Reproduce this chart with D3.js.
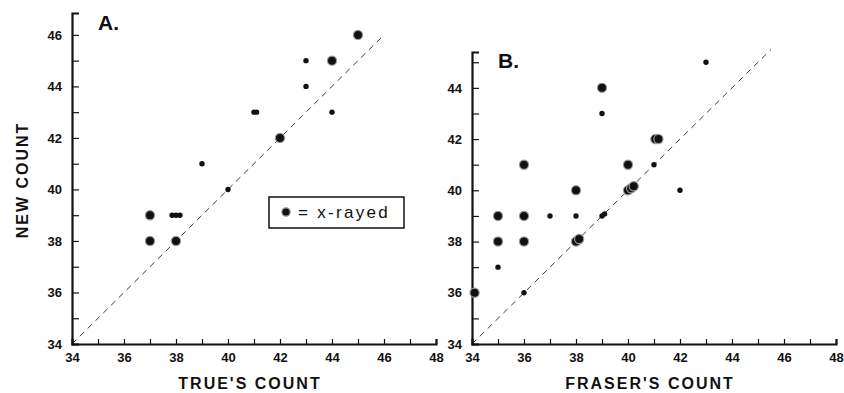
<!DOCTYPE html>
<html>
<head>
<meta charset="utf-8">
<script src="https://cdn.jsdelivr.net/npm/d3@7"></script>
<style>
  body { margin: 0; background: #fff; }
  svg { display: block; font-family: "Liberation Sans", Arial, sans-serif; }
  .axis text { font-size: 13px; font-weight: bold; fill: #111; }
  .axis path, .axis line { stroke: #111; }
  .title { font-weight: bold; font-size: 16px; letter-spacing: 2px; fill: #111; }
</style>
</head>
<body>
<script>
// panel A: true's count vs new count
const trueCount = [45, 43, 44, 43, 44, 41, 41.1, 42, 39, 40, 37, 37.85, 38, 38.15, 37, 38];
const newCountA = [46, 45, 45, 44, 43, 43, 43, 42, 41, 40, 39, 39, 39, 39, 38, 38];
const xrayedA   = [1, 0, 1, 0, 0, 0, 0, 1, 0, 0, 1, 0, 0, 0, 1, 1];

// panel B: fraser's count vs new count
const fraserCount = [43, 39, 39, 41.05, 41.17, 36, 40, 41, 38, 40, 40.12, 40.22, 42, 35, 36, 37, 38, 39, 39.1, 35, 36, 38, 38.12, 35, 34.1, 36];
const newCountB   = [45, 44, 43, 42, 42, 41, 41, 41, 40, 40, 40.08, 40.16, 40, 39, 39, 39, 39, 39, 39.08, 38, 38, 38, 38.1, 37, 36, 36];
const xrayedB     = [0, 1, 0, 1, 1, 1, 1, 0, 1, 1, 1, 1, 0, 1, 1, 0, 0, 0, 0, 1, 1, 1, 1, 0, 1, 0];

const xTicks = d3.range(34, 49);
const yTicksA = d3.range(34, 47);
const yTicksB = d3.range(34, 46);

const w = 844, h = 393;
const svg = d3.select("body").append("svg")
  .attr("width", w)
  .attr("height", h);

function evenOnly(d) { return d % 2 === 0 ? d : ""; }

function drawPanel(opts) {
  const x = d3.scaleLinear().domain([34, 48]).range(opts.xRange);
  const y = d3.scaleLinear().domain(opts.yDomain).range(opts.yRange);
  const g = svg.append("g");

  // diagonal 1:1 line
  g.append("line")
    .attr("x1", x(34)).attr("y1", y(34))
    .attr("x2", x(opts.diagEnd)).attr("y2", y(opts.diagEnd))
    .attr("stroke", "#222")
    .attr("stroke-width", 0.9)
    .attr("stroke-dasharray", "6,5");

  const xAxis = d3.axisBottom(x)
    .tickValues(xTicks)
    .tickFormat(evenOnly)
    .tickSizeInner(-5)
    .tickSizeOuter(-5)
    .tickPadding(9);
  const gx = g.append("g")
    .attr("class", "axis")
    .attr("transform", "translate(0," + y(34) + ")")
    .call(xAxis);
  gx.select(".domain").attr("stroke-width", 2.2);
  gx.selectAll(".tick line").attr("stroke-width", 1.2);

  const yAxis = d3.axisLeft(y)
    .tickValues(opts.yTicks)
    .tickFormat(evenOnly)
    .tickSizeInner(-7)
    .tickSizeOuter(-7)
    .tickPadding(10);
  const gy = g.append("g")
    .attr("class", "axis")
    .attr("transform", "translate(" + x(34) + ",0)")
    .call(yAxis);
  gy.select(".domain").attr("stroke-width", 2.2);
  gy.selectAll(".tick line").attr("stroke-width", 1.2);

  // panel letter
  g.append("text")
    .attr("x", opts.letterPos[0])
    .attr("y", opts.letterPos[1])
    .attr("font-size", 21)
    .attr("font-weight", "bold")
    .attr("fill", "#111")
    .text(opts.letter);

  // x title
  g.append("text")
    .attr("class", "title")
    .attr("x", (x(34) + x(48)) / 2 - 4)
    .attr("y", 389)
    .attr("text-anchor", "middle")
    .text(opts.xTitle);

  const pts = opts.xs.map((d, i) => ({ x: d, y: opts.ys[i], xr: opts.xr[i] }));

  // x-rayed: black disc with grey halo
  g.selectAll(".xr")
    .data(pts.filter(d => d.xr))
    .enter()
    .append("circle")
    .attr("class", "xr")
    .attr("cx", d => x(d.x))
    .attr("cy", d => y(d.y))
    .attr("r", 4.6)
    .attr("fill", "#111")
    .attr("stroke", "#999")
    .attr("stroke-width", 1.2);

  g.selectAll(".dot")
    .data(pts.filter(d => !d.xr))
    .enter()
    .append("circle")
    .attr("class", "dot")
    .attr("cx", d => x(d.x))
    .attr("cy", d => y(d.y))
    .attr("r", 2.7)
    .attr("fill", "#111");

  return { x: x, y: y };
}

drawPanel({
  xRange: [72, 436], yDomain: [34, 46.85], yRange: [344, 13],
  yTicks: yTicksA, diagEnd: 46,
  xs: trueCount, ys: newCountA, xr: xrayedA,
  letter: "A.", letterPos: [98, 30],
  xTitle: "TRUE'S COUNT"
});

drawPanel({
  xRange: [472, 836], yDomain: [34, 45.4], yRange: [344, 52],
  yTicks: yTicksB, diagEnd: 45.5,
  xs: fraserCount, ys: newCountB, xr: xrayedB,
  letter: "B.", letterPos: [498, 68],
  xTitle: "FRASER'S COUNT"
});

// y title
svg.append("text")
  .attr("class", "title")
  .attr("transform", "translate(28,180) rotate(-90)")
  .attr("text-anchor", "middle")
  .text("NEW COUNT");

// legend
const legend = svg.append("g").attr("id", "legend");
legend.append("rect")
  .attr("x", 269).attr("y", 197)
  .attr("width", 135).attr("height", 31)
  .attr("fill", "#fff")
  .attr("stroke", "#111")
  .attr("stroke-width", 1.5);
legend.append("circle")
  .attr("cx", 286).attr("cy", 212)
  .attr("r", 4.2)
  .attr("fill", "#111")
  .attr("stroke", "#999")
  .attr("stroke-width", 1.2);
legend.append("text")
  .attr("x", 298).attr("y", 218)
  .attr("font-size", 17)
  .attr("letter-spacing", "2.3px")
  .attr("fill", "#111")
  .text("= x-rayed");
</script>
</body>
</html>
